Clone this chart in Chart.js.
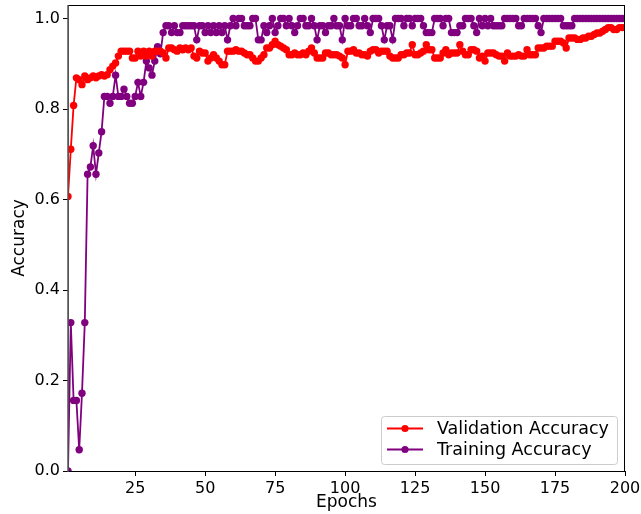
<!DOCTYPE html>
<html><head><meta charset="utf-8">
<script src="https://cdn.jsdelivr.net/npm/chart.js@4"></script>
<style>html,body{margin:0;padding:0;background:#fff;} canvas{display:block;}</style>
</head><body>
<canvas id="c" width="641" height="514"></canvas>
<script>
const epochs = Array.from({length: 200}, (_, i) => i + 1);

const validationAccuracy = [
  0.607, 0.711, 0.808, 0.869, 0.865, 0.854, 0.873, 0.865, 0.869, 0.873,
  0.869, 0.873, 0.876, 0.873, 0.876, 0.887, 0.895, 0.902, 0.917, 0.928,
  0.928, 0.928, 0.928, 0.913, 0.913, 0.928, 0.917, 0.928, 0.917, 0.928,
  0.917, 0.928, 0.928, 0.928, 0.924, 0.913, 0.935, 0.935, 0.931, 0.928,
  0.935, 0.931, 0.935, 0.931, 0.935, 0.917, 0.913, 0.928, 0.924, 0.924,
  0.906, 0.913, 0.920, 0.913, 0.906, 0.898, 0.898, 0.928, 0.928, 0.928,
  0.931, 0.928, 0.928, 0.924, 0.920, 0.920, 0.913, 0.906, 0.906, 0.913,
  0.920, 0.935, 0.935, 0.942, 0.950, 0.942, 0.939, 0.935, 0.931, 0.920,
  0.920, 0.924, 0.920, 0.920, 0.924, 0.920, 0.928, 0.935, 0.924, 0.913,
  0.913, 0.913, 0.924, 0.924, 0.920, 0.920, 0.920, 0.917, 0.913, 0.898,
  0.928, 0.928, 0.931, 0.924, 0.924, 0.920, 0.920, 0.917, 0.928, 0.931,
  0.931, 0.924, 0.928, 0.928, 0.928, 0.917, 0.913, 0.913, 0.913, 0.920,
  0.920, 0.924, 0.924, 0.942, 0.920, 0.920, 0.924, 0.928, 0.942, 0.931,
  0.931, 0.913, 0.913, 0.913, 0.924, 0.931, 0.920, 0.924, 0.924, 0.924,
  0.942, 0.928, 0.920, 0.920, 0.931, 0.931, 0.928, 0.913, 0.917, 0.906,
  0.924, 0.924, 0.924, 0.920, 0.917, 0.917, 0.906, 0.924, 0.917, 0.917,
  0.917, 0.920, 0.917, 0.917, 0.931, 0.920, 0.920, 0.920, 0.935, 0.935,
  0.935, 0.939, 0.939, 0.939, 0.950, 0.950, 0.950, 0.946, 0.935, 0.957,
  0.957, 0.957, 0.954, 0.954, 0.957, 0.957, 0.961, 0.961, 0.965, 0.968,
  0.968, 0.972, 0.976, 0.980, 0.980, 0.976, 0.976, 0.980, 0.980, 0.980
];

const trainingAccuracy = [
  0.000, 0.328, 0.156, 0.156, 0.047, 0.172, 0.328, 0.656, 0.672, 0.719,
  0.656, 0.703, 0.750, 0.828, 0.828, 0.813, 0.828, 0.875, 0.828, 0.828,
  0.844, 0.828, 0.813, 0.813, 0.828, 0.859, 0.828, 0.859, 0.906, 0.891,
  0.875, 0.906, 0.938, 0.922, 0.969, 0.984, 0.984, 0.969, 0.984, 0.969,
  0.969, 0.984, 0.984, 0.984, 0.984, 0.984, 0.953, 0.984, 0.984, 0.969,
  0.984, 0.969, 0.984, 0.969, 0.984, 0.969, 0.984, 0.953, 0.984, 1.000,
  0.984, 1.000, 1.000, 0.984, 0.984, 0.984, 1.000, 1.000, 0.953, 0.953,
  0.984, 0.969, 0.984, 1.000, 0.969, 0.984, 1.000, 1.000, 0.984, 1.000,
  0.984, 0.969, 0.984, 1.000, 1.000, 0.984, 0.984, 1.000, 0.984, 0.953,
  0.984, 0.984, 0.969, 0.984, 0.984, 1.000, 0.984, 0.984, 0.953, 1.000,
  0.984, 0.984, 1.000, 1.000, 0.984, 0.984, 1.000, 0.984, 0.969, 1.000,
  1.000, 1.000, 0.984, 0.953, 0.984, 0.984, 0.953, 1.000, 1.000, 1.000,
  0.984, 1.000, 1.000, 0.984, 1.000, 1.000, 1.000, 0.984, 0.969, 0.969,
  0.969, 1.000, 1.000, 1.000, 0.984, 1.000, 1.000, 0.969, 0.969, 0.969,
  0.984, 0.984, 1.000, 1.000, 1.000, 0.984, 0.969, 1.000, 0.984, 1.000,
  0.984, 1.000, 0.984, 0.984, 0.984, 0.984, 1.000, 1.000, 1.000, 1.000,
  1.000, 0.984, 0.984, 1.000, 1.000, 1.000, 1.000, 1.000, 0.984, 0.969,
  1.000, 1.000, 1.000, 1.000, 1.000, 1.000, 1.000, 0.984, 0.984, 0.984,
  0.984, 1.000, 1.000, 1.000, 1.000, 1.000, 1.000, 1.000, 1.000, 1.000,
  1.000, 1.000, 1.000, 1.000, 1.000, 1.000, 1.000, 1.000, 1.000, 1.000
];

const xTicks = [25, 50, 75, 100, 125, 150, 175, 200];
const yTicks = [0.0, 0.2, 0.4, 0.6, 0.8, 1.0];
const seriesLabels = ['Validation Accuracy', 'Training Accuracy'];
const seriesColors = ['#ff0000', '#800080'];

const FONT = "'DejaVu Sans', 'Liberation Sans', sans-serif";

const spinePlugin = {
  id: 'spines',
  afterDatasetsDraw(chart) {
    const {ctx, chartArea: a} = chart;
    ctx.save();
    ctx.lineWidth = 1;
    ctx.strokeStyle = '#000';
    ctx.beginPath();
    ctx.moveTo(a.left, a.top + 0.5); ctx.lineTo(a.right, a.top + 0.5);
    ctx.moveTo(a.right - 0.5, a.top); ctx.lineTo(a.right - 0.5, a.bottom);
    ctx.moveTo(a.left, a.bottom + 0.5); ctx.lineTo(a.right, a.bottom + 0.5);
    ctx.stroke();
    ctx.strokeStyle = '#555';
    ctx.lineWidth = 1.5;
    ctx.beginPath();
    ctx.moveTo(a.left, a.top); ctx.lineTo(a.left, a.bottom + 1);
    ctx.stroke();
    ctx.restore();
  }
};

const legendPlugin = {
  id: 'mplLegend',
  afterDraw(chart) {
    const {ctx, chartArea: a} = chart;
    const w = 236, h = 48;
    const x = a.right - 8 - w, y = a.bottom - 7 - h;
    ctx.save();
    ctx.beginPath();
    if (ctx.roundRect) ctx.roundRect(x + 0.5, y + 0.5, w, h, 3); else ctx.rect(x + 0.5, y + 0.5, w, h);
    ctx.fillStyle = 'rgba(255,255,255,0.8)';
    ctx.fill();
    ctx.strokeStyle = '#cccccc';
    ctx.lineWidth = 1;
    ctx.stroke();
    chart.data.datasets.forEach((ds, i) => {
      const cy = y + 12.5 + i * 21;
      ctx.strokeStyle = ds.borderColor;
      ctx.lineWidth = 1.8;
      ctx.beginPath();
      ctx.moveTo(x + 6, cy); ctx.lineTo(x + 42, cy);
      ctx.stroke();
      ctx.fillStyle = ds.borderColor;
      ctx.beginPath();
      ctx.arc(x + 24, cy, 3.6, 0, Math.PI * 2);
      ctx.fill();
      ctx.fillStyle = '#000';
      ctx.font = '17.5px ' + FONT;
      ctx.textBaseline = 'middle';
      ctx.textAlign = 'left';
      ctx.fillText(ds.label, x + 56, cy + 1);
    });
    ctx.restore();
  }
};

const makeSeries = (vals, i) => ({
  label: seriesLabels[i],
  data: epochs.map((e, k) => ({x: e, y: vals[k]})),
  borderColor: seriesColors[i],
  backgroundColor: seriesColors[i],
  borderWidth: 1.8,
  pointRadius: 3.7,
  pointHoverRadius: 3.7,
  pointBorderWidth: 0,
  tension: 0,
  fill: false
});

new Chart(document.getElementById('c'), {
  type: 'line',
  data: {
    datasets: [makeSeries(validationAccuracy, 0), makeSeries(trainingAccuracy, 1)]
  },
  options: {
    responsive: false,
    animation: false,
    events: [],
    layout: {padding: {top: 5, right: 16, left: 0, bottom: 0}},
    plugins: {legend: {display: false}, tooltip: {enabled: false}},
    scales: {
      x: {
        type: 'linear', min: 1, max: 200,
        afterBuildTicks: s => { s.ticks = xTicks.map(v => ({value: v})); },
        afterFit: s => { s.height = 43; s.paddingLeft = 0; s.paddingRight = 0; },
        ticks: {font: {family: FONT, size: 16}, color: '#000', padding: 3, maxRotation: 0, autoSkip: false},
        grid: {display: true, drawOnChartArea: false, drawTicks: true, tickLength: 5, tickColor: '#000', tickWidth: 1},
        border: {display: true, color: '#000', width: 1},
        title: {display: true, text: 'Epochs', font: {family: FONT, size: 17}, color: '#000', padding: {top: 0, bottom: 1}}
      },
      y: {
        type: 'linear', min: 0, max: 1.03,
        afterBuildTicks: s => { s.ticks = yTicks.map(v => ({value: v})); },
        afterFit: s => { s.width = 68; s.paddingTop = 0; s.paddingBottom = 0; },
        ticks: {font: {family: FONT, size: 16}, color: '#000', padding: 3, callback: v => Number(v).toFixed(1)},
        grid: {display: true, drawOnChartArea: false, drawTicks: true, tickLength: 5, tickColor: '#000', tickWidth: 1},
        border: {display: true, color: '#555', width: 1},
        title: {display: true, text: 'Accuracy', font: {family: FONT, size: 17}, color: '#000', padding: {top: 9, bottom: 0}}
      }
    }
  },
  plugins: [spinePlugin, legendPlugin]
});
</script>
</body></html>
